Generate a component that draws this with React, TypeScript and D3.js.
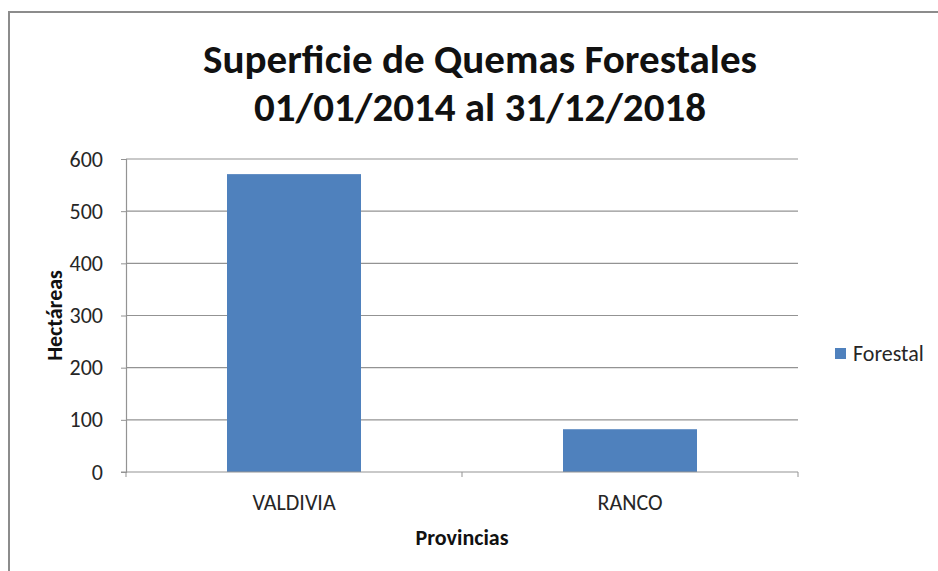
import React, { useRef, useEffect } from 'react';
import * as d3 from 'd3';

const categories = ['VALDIVIA', 'RANCO'];
const forestal = [571, 82];
const yTicks = [0, 100, 200, 300, 400, 500, 600];
const titleLines = ['Superficie de Quemas Forestales', '01/01/2014 al 31/12/2018'];
const seriesName = 'Forestal';

const W = 938;
const H = 571;
const FONT = "Carlito, Calibri, 'Open Sans', 'Noto Sans', sans-serif";

const App = () => {
  const ref = useRef<SVGSVGElement | null>(null);

  useEffect(() => {
    if (!ref.current) return;
    const svg = d3.select(ref.current);
    svg.selectAll('*').remove();

    // chart frame
    svg.append('rect')
      .attr('x', 9).attr('y', 12)
      .attr('width', W).attr('height', H)
      .attr('fill', '#fff').attr('stroke', '#8c8c8c').attr('stroke-width', 2);

    const plot = { left: 126, right: 798, top: 159, bottom: 472 };

    const x = d3.scaleBand<string>()
      .domain(categories)
      .range([plot.left, plot.right])
      .padding(0);
    const y = d3.scaleLinear().domain([0, 600]).range([plot.bottom, plot.top]);

    // title
    const widths = [554, 452];
    svg.append('g').selectAll('text')
      .data(titleLines)
      .enter().append('text')
      .attr('x', 480)
      .attr('y', (d, i) => 73 + i * 48)
      .attr('text-anchor', 'middle')
      .attr('font-family', FONT)
      .attr('font-weight', 'bold')
      .attr('font-size', 40)
      .attr('fill', '#111')
      .attr('textLength', (d, i) => widths[i])
      .attr('lengthAdjust', 'spacingAndGlyphs')
      .text(d => d);

    // gridlines
    svg.append('g').selectAll('line')
      .data(yTicks.filter(t => t > 0))
      .enter().append('line')
      .attr('x1', plot.left).attr('x2', plot.right)
      .attr('y1', d => y(d)).attr('y2', d => y(d))
      .attr('stroke', '#939393').attr('stroke-width', 1.2);

    // y axis
    const yAxis = svg.append('g')
      .attr('transform', `translate(${plot.left},0)`)
      .call(d3.axisLeft(y).tickValues(yTicks).tickSize(5).tickPadding(18));
    yAxis.select('.domain').attr('stroke', '#939393').attr('stroke-width', 1.2);
    yAxis.selectAll('.tick line').attr('stroke', '#939393');
    yAxis.selectAll('.tick text')
      .attr('font-family', FONT).attr('font-size', 22).attr('fill', '#262626');

    // bars
    const barW = 134;
    svg.append('g').selectAll('rect')
      .data(forestal)
      .enter().append('rect')
      .attr('x', (d, i) => (x(categories[i]) as number) + x.bandwidth() / 2 - barW / 2)
      .attr('y', d => y(d))
      .attr('width', barW)
      .attr('height', d => y(0) - y(d))
      .attr('fill', '#4f81bd');

    // x axis
    const xAxis = svg.append('g')
      .attr('transform', `translate(0,${plot.bottom})`)
      .call(d3.axisBottom(x).tickSize(0).tickPadding(22));
    xAxis.select('.domain').remove();
    xAxis.selectAll('.tick text')
      .attr('font-family', FONT).attr('font-size', 22).attr('fill', '#262626');
    svg.append('line')
      .attr('x1', plot.left - 5).attr('x2', plot.right)
      .attr('y1', plot.bottom).attr('y2', plot.bottom)
      .attr('stroke', '#939393').attr('stroke-width', 1.2);
    svg.append('g').selectAll('line')
      .data([plot.left, plot.left + x.step(), plot.right])
      .enter().append('line')
      .attr('x1', d => d).attr('x2', d => d)
      .attr('y1', plot.bottom).attr('y2', plot.bottom + 5)
      .attr('stroke', '#939393');

    // axis titles
    svg.append('text')
      .attr('x', 462).attr('y', 545)
      .attr('text-anchor', 'middle')
      .attr('font-family', FONT).attr('font-weight', 'bold').attr('font-size', 22)
      .attr('fill', '#111')
      .text('Provincias');
    svg.append('text')
      .attr('transform', `translate(62,${(plot.top + plot.bottom) / 2}) rotate(-90)`)
      .attr('text-anchor', 'middle')
      .attr('font-family', FONT).attr('font-weight', 'bold').attr('font-size', 22)
      .attr('fill', '#111')
      .text('Hectáreas');

    // legend
    const lg = svg.append('g').attr('transform', 'translate(835,348)');
    lg.append('rect').attr('width', 11).attr('height', 11).attr('fill', '#4f81bd');
    lg.append('text')
      .attr('x', 18).attr('y', 13)
      .attr('font-family', FONT).attr('font-size', 22).attr('fill', '#262626')
      .text(seriesName);
  }, []);

  return (
    <div style={{ position: 'absolute', left: 0, top: 0 }}>
      <svg ref={ref} width={W} height={H} style={{ display: 'block', background: '#fff' }} />
    </div>
  );
};

export default App;
